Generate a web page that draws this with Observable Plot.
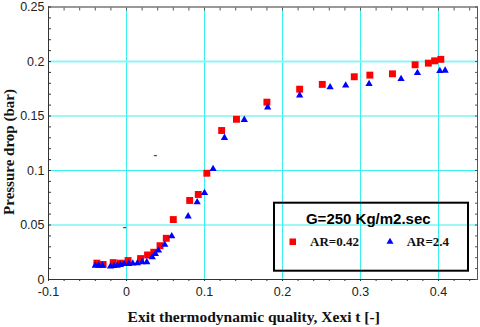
<!DOCTYPE html>
<html><head><meta charset="utf-8">
<script src="https://cdn.jsdelivr.net/npm/d3@7"></script>
<script src="https://cdn.jsdelivr.net/npm/@observablehq/plot@0.6"></script>
<style>
html,body{margin:0;padding:0;background:#fff;}
#wrap{position:relative;width:480px;height:327px;overflow:hidden;}
#wrap svg{display:block}
#ovl{position:absolute;left:0;top:0;pointer-events:none}
</style></head><body>
<div id="wrap"></div>
<script>
// ---- data ----
const xAR042 = [-0.038,-0.030,-0.017,-0.008,0.002,0.018,0.027,0.035,0.043,0.051,0.060,0.081,0.092,0.103,0.122,0.141,0.180,0.222,0.251,0.292,0.312,0.341,0.370,0.387,0.395,0.403];
const yAR042 = [0.0150,0.0138,0.0155,0.0150,0.0174,0.0192,0.0225,0.0250,0.0310,0.0378,0.0550,0.0725,0.0780,0.0975,0.1367,0.1470,0.1627,0.1746,0.1790,0.1860,0.1875,0.1887,0.1970,0.1985,0.2006,0.2020];
const xAR24 = [-0.040,-0.0355,-0.031,-0.0205,-0.016,-0.012,-0.008,-0.003,0.003,0.008,0.014,0.020,0.026,0.033,0.037,0.041,0.049,0.058,0.079,0.0906,0.100,0.111,0.1256,0.151,0.181,0.222,0.261,0.281,0.311,0.352,0.373,0.4017,0.4085];
const yAR24 = [0.0128,0.0128,0.0128,0.0120,0.0125,0.0128,0.0135,0.0144,0.0144,0.0147,0.0150,0.0160,0.0160,0.0205,0.0235,0.0266,0.0320,0.0397,0.0580,0.0709,0.0795,0.1015,0.1300,0.1465,0.1580,0.1690,0.1764,0.1780,0.1795,0.1840,0.1896,0.1914,0.1917];
const strayX = [0.037,-0.0026];
const strayY = [0.115,0.049];
const xTicks = [-0.1,0,0.1,0.2,0.3,0.4];
const yTicks = [0,0.05,0.1,0.15,0.2,0.25];
const xGrid = [0,0.1,0.2,0.3,0.4];
const yGrid = [0.05,0.1,0.15];
const yGridTop = [0.2];
const seriesNames = ["AR=0.42","AR=2.4"];
const legendTitle = "G=250 Kg/m2.sec";
const xTitle = "Exit thermodynamic quality, Xexi t [-]";
const yTitle = "Pressure drop (bar)";

const red = xAR042.map((x,i)=>({x, y:yAR042[i]}));
const blue = xAR24.map((x,i)=>({x, y:yAR24[i]}));
const stray = strayX.map((x,i)=>({x, y:strayY[i]}));
const minorX = d3.range(-10, 46, 2).map(v => v/100);
const minorY = d3.range(0, 26, 1).map(v => v/100);
const cyan = "#3cf0f0";

const plot = Plot.plot({
  width:480, height:327,
  marginLeft:48, marginRight:3, marginTop:6.5, marginBottom:48,
  x:{domain:[-0.1,0.45], label:null},
  y:{domain:[0,0.25], label:null},
  style:{fontFamily:"'Liberation Sans', Arial, sans-serif", fontSize:"12.5px", color:"#222", background:"transparent", overflow:"visible"},
  marks:[
    Plot.ruleX(xGrid,{stroke:cyan, strokeWidth:1}),
    Plot.ruleY(yGrid,{stroke:cyan, strokeWidth:1}),
    Plot.ruleY(yGridTop,{stroke:"#8ef6f6", strokeWidth:2}),
    Plot.ruleY([0.25],{stroke:"#999", strokeWidth:2}),
    Plot.ruleX([0.45],{stroke:"#555"}),
    Plot.ruleX([-0.1],{stroke:"#333"}),
    Plot.ruleY([0],{stroke:"#333"}),
    Plot.axisX(xTicks,{tickSize:0, tickPadding:8, tickFormat:d=>String(d), label:null, fill:"#222"}),
    Plot.axisX(minorX,{tickSize:2, tickFormat:()=>"", label:null, stroke:"#333"}),
    Plot.axisX(minorX,{anchor:"top", tickSize:-3, tickFormat:()=>"", label:null, stroke:"#555"}),
    Plot.axisY(yTicks,{tickSize:0, tickPadding:4, tickFormat:d=>String(d), label:null, fill:"#222"}),
    Plot.axisY(minorY,{tickSize:-3, tickFormat:()=>"", label:null, stroke:"#333"}),
    Plot.axisY(minorY,{anchor:"right", tickSize:-3, tickFormat:()=>"", label:null, stroke:"#555"}),
    Plot.text(stray,{x:"x", y:"y", text:()=>"-", fill:"#444", fontSize:11, fontWeight:"bold"}),
    Plot.dot(red,{x:"x", y:"y", symbol:"square", r:3.9, fill:"#ff0000", stroke:"none"}),
    Plot.dot(blue,{x:"x", y:"y", symbol:"triangle", r:2.7, fill:"#0000ff", stroke:"none"})
  ]
});
const wrap = document.getElementById("wrap");
wrap.appendChild(plot);

// overlay: titles and legend
const svg = d3.select(wrap).append("svg").attr("id","ovl").attr("width",480).attr("height",327);
const serif = "'Liberation Serif','Times New Roman',serif";
const sans = "'Liberation Sans',Arial,sans-serif";
svg.append("text").attr("x",253.7).attr("y",321.5).attr("text-anchor","middle")
  .attr("font-family",serif).attr("font-weight","bold").attr("font-size",15.5).attr("fill","#111").text(xTitle);
svg.append("text").attr("transform","translate(13.5,152) rotate(-90)").attr("text-anchor","middle")
  .attr("font-family",serif).attr("font-weight","bold").attr("font-size",15).attr("fill","#111").text(yTitle);
svg.append("rect").attr("x",274).attr("y",202.7).attr("width",194).attr("height",68)
  .attr("fill","none").attr("stroke","#000").attr("stroke-width",2);
svg.append("text").attr("x",368.3).attr("y",223.7).attr("text-anchor","middle")
  .attr("font-family",sans).attr("font-weight","bold").attr("font-size",15).attr("fill","#000").text(legendTitle);
svg.append("rect").attr("x",289.5).attr("y",238.5).attr("width",6.5).attr("height",6.5).attr("fill","#ff0000");
svg.append("text").attr("x",310).attr("y",246.3).attr("font-family",serif).attr("font-weight","bold")
  .attr("font-size",13).attr("fill","#111").text(seriesNames[0]);
svg.append("path").attr("d","M386.5,243.7L393.5,243.7L390,237.7Z").attr("fill","#0000ff");
svg.append("text").attr("x",406.7).attr("y",246.3).attr("font-family",serif).attr("font-weight","bold")
  .attr("font-size",13).attr("fill","#111").text(seriesNames[1]);
</script>
</body></html>
